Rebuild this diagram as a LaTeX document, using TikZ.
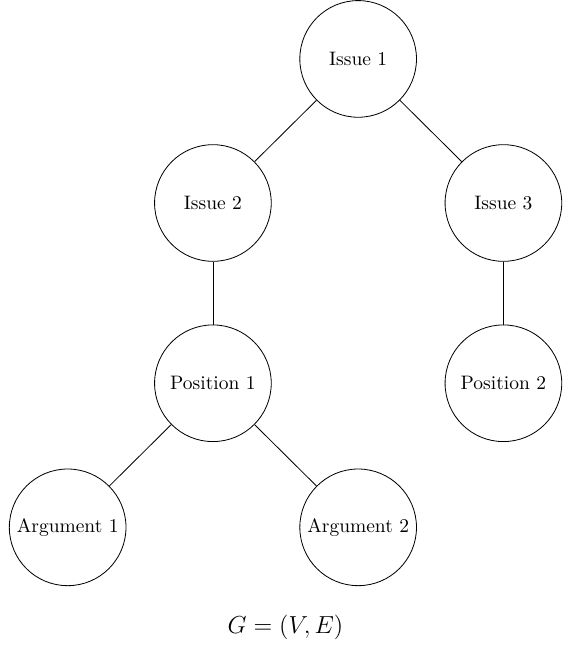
\documentclass[tikz,border=0pt]{standalone}
\usepackage{amsmath, amssymb}
\usepackage{tikz}
\usetikzlibrary{calc, positioning}

\begin{document}
\begin{tikzpicture}[
        node distance=2.48cm,
        % Styles
        vertex/.style={circle, draw=black, minimum size=2cm, inner sep=0pt, align=center, font=\fontsize{9.5}{11}\selectfont},
        edge/.style  ={draw=black}
    ]

    % --- ISSUES ---
    \node[vertex] (Issue1) at (0,0) {Issue 1};
    \node[vertex, on grid, below left=2.47cm and 2.49cm of Issue1] (Issue2) {Issue 2};
    \node[vertex, on grid, below right=2.47cm and 2.49cm of Issue1] (Issue3) {Issue 3};

    % --- POSITIONS ---
    \node[vertex, on grid, below=3.09cm of Issue2] (Pos1) {Position 1};
    \node[vertex, on grid, below=3.09cm of Issue3] (Pos2) {Position 2};

    % --- ARGUMENTS ---
    \node[vertex, on grid, below left=2.47cm and 2.49cm of Pos1] (Arg1) {Argument 1};
    \node[vertex, on grid, below right=2.47cm and 2.49cm of Pos1] (Arg2) {Argument 2};

    % Edges
    \draw[edge] (Issue1) -- (Issue2);
    \draw[edge] (Issue1) -- (Issue3);
    \draw[edge] (Issue2) -- (Pos1);
    \draw[edge] (Issue3) -- (Pos2);
    \draw[edge] (Pos1) -- (Arg1);
    \draw[edge] (Pos1) -- (Arg2);

    % Graph label
    \node[font=\large] (Graph) at ($(Arg1)!0.5!(Issue3 |- Arg1) + (0,-1.72)$) {$G = (V, E)$};

    \useasboundingbox (-6.14,-10.15) rectangle (3.43,1.01);

\end{tikzpicture}
\end{document}
